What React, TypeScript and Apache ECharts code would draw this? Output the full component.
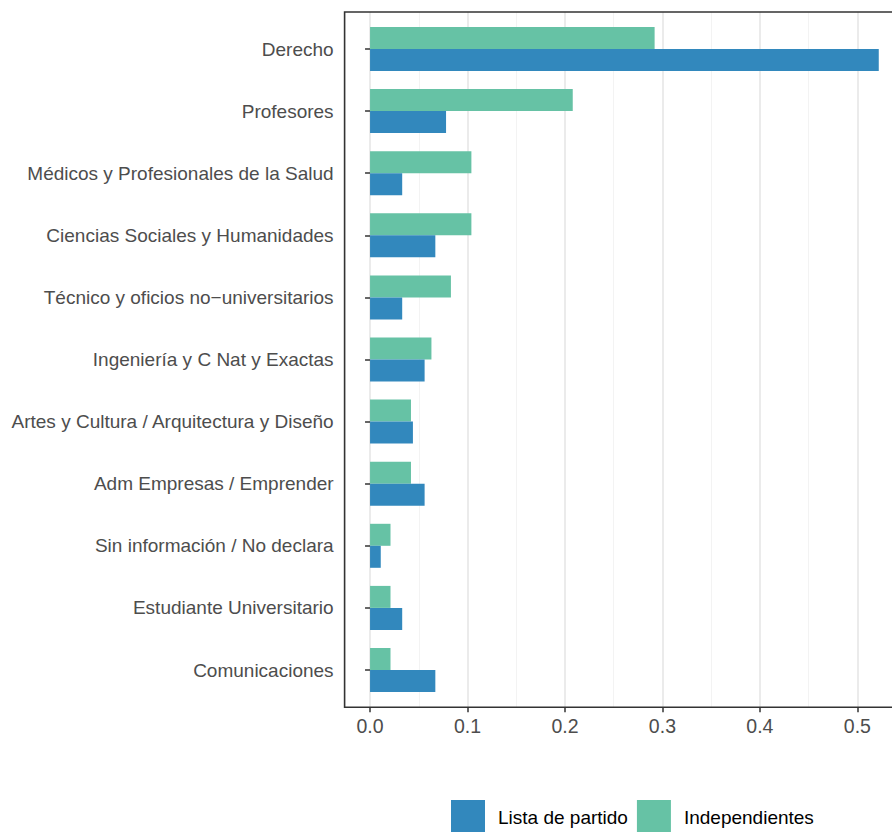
import React, { useEffect, useRef } from "react";
import * as echarts from "echarts";

const categories = [
  "Derecho",
  "Profesores",
  "Médicos y Profesionales de la Salud",
  "Ciencias Sociales y Humanidades",
  "Técnico y oficios no\u2212universitarios",
  "Ingeniería y C Nat y Exactas",
  "Artes y Cultura / Arquitectura y Diseño",
  "Adm Empresas / Emprender",
  "Sin información / No declara",
  "Estudiante Universitario",
  "Comunicaciones",
];
const listaDePartido = [0.522, 0.078, 0.033, 0.067, 0.033, 0.056, 0.044, 0.056, 0.011, 0.033, 0.067];
const independientes = [0.292, 0.208, 0.104, 0.104, 0.083, 0.063, 0.042, 0.042, 0.021, 0.021, 0.021];
const majorTicks = [0, 0.1, 0.2, 0.3, 0.4, 0.5];
const minorTicks = [0.05, 0.15, 0.25, 0.35, 0.45];
const xMin = -0.0261;
const xMax = 0.5483;

const FONT = "'Liberation Sans', Arial, Helvetica, sans-serif";

export default function App() {
  const ref = useRef<HTMLDivElement>(null);
  useEffect(() => {
    if (!ref.current) return;
    const chart = echarts.init(ref.current, undefined, { renderer: "svg" });
    const panel = { left: 344.6, width: 559.8, top: 12, height: 695.3 };
    const bars = { left: 344.6, width: 559.8, top: 17.95, height: 683.1 };
    chart.setOption({
      animation: false,
      backgroundColor: "#ffffff",
      textStyle: { fontFamily: FONT },
      grid: [
        { ...panel, show: true, borderColor: "#333333", borderWidth: 1.6, backgroundColor: "transparent", z: 5, containLabel: false },
        { ...bars, show: false, containLabel: false },
      ],
      legend: {
        data: ["Lista de partido", "Independientes"],
        left: 451,
        top: 800,
        padding: 0,
        itemWidth: 34,
        itemHeight: 34,
        itemGap: 9,
        icon: "rect",
        textStyle: { fontSize: 19, color: "#000000", fontFamily: FONT, padding: [0, 0, 0, 8] },
      },
      xAxis: [
        {
          type: "value",
          gridIndex: 0,
          min: xMin,
          max: xMax,
          position: "bottom",
          axisLine: { show: false },
          axisTick: { show: true, customValues: majorTicks, length: 5, lineStyle: { color: "#333333", width: 1.5 } },
          axisLabel: {
            show: true,
            customValues: majorTicks,
            formatter: (v: number) => v.toFixed(1),
            fontSize: 19.5,
            color: "#4d4d4d",
            margin: 9,
            fontFamily: FONT,
          },
          splitLine: { show: true, lineStyle: { color: "#ebebeb", width: 2 } },
        },
        {
          type: "value",
          gridIndex: 1,
          min: xMin,
          max: xMax,
          show: false,
          splitLine: { show: false },
        },
        {
          type: "value",
          gridIndex: 0,
          min: xMin,
          max: xMax,
          position: "bottom",
          axisLine: { show: false },
          axisTick: { show: false, customValues: minorTicks },
          axisLabel: { show: false, customValues: minorTicks },
          splitLine: { show: true, lineStyle: { color: "#f3f3f3", width: 1 } },
        },
      ],
      yAxis: [
        { type: "value", gridIndex: 0, min: 0, max: 1, show: false, splitLine: { show: false } },
        {
          type: "category",
          gridIndex: 1,
          data: categories,
          inverse: true,
          axisLine: { show: false },
          axisTick: { show: true, length: 5, alignWithLabel: true, lineStyle: { color: "#333333", width: 1.5 } },
          axisLabel: { fontSize: 19, color: "#4d4d4d", margin: 11, fontFamily: FONT },
          splitLine: { show: false },
        },
      ],
      series: [
        {
          name: "Independientes",
          type: "bar",
          xAxisIndex: 1,
          yAxisIndex: 1,
          data: independientes,
          barWidth: 22,
          barGap: "0%",
          itemStyle: { color: "#66C2A5" },
          z: 2,
        },
        {
          name: "Lista de partido",
          type: "bar",
          xAxisIndex: 1,
          yAxisIndex: 1,
          data: listaDePartido,
          barWidth: 22,
          barGap: "0%",
          itemStyle: { color: "#3288BD" },
          z: 2,
        },
      ],
    });
    return () => chart.dispose();
  }, []);
  return (
    <div style={{ position: "absolute", left: 0, top: 0, width: 892, height: 832, overflow: "hidden" }}>
      <div ref={ref} style={{ width: 930, height: 832 }} />
    </div>
  );
}
